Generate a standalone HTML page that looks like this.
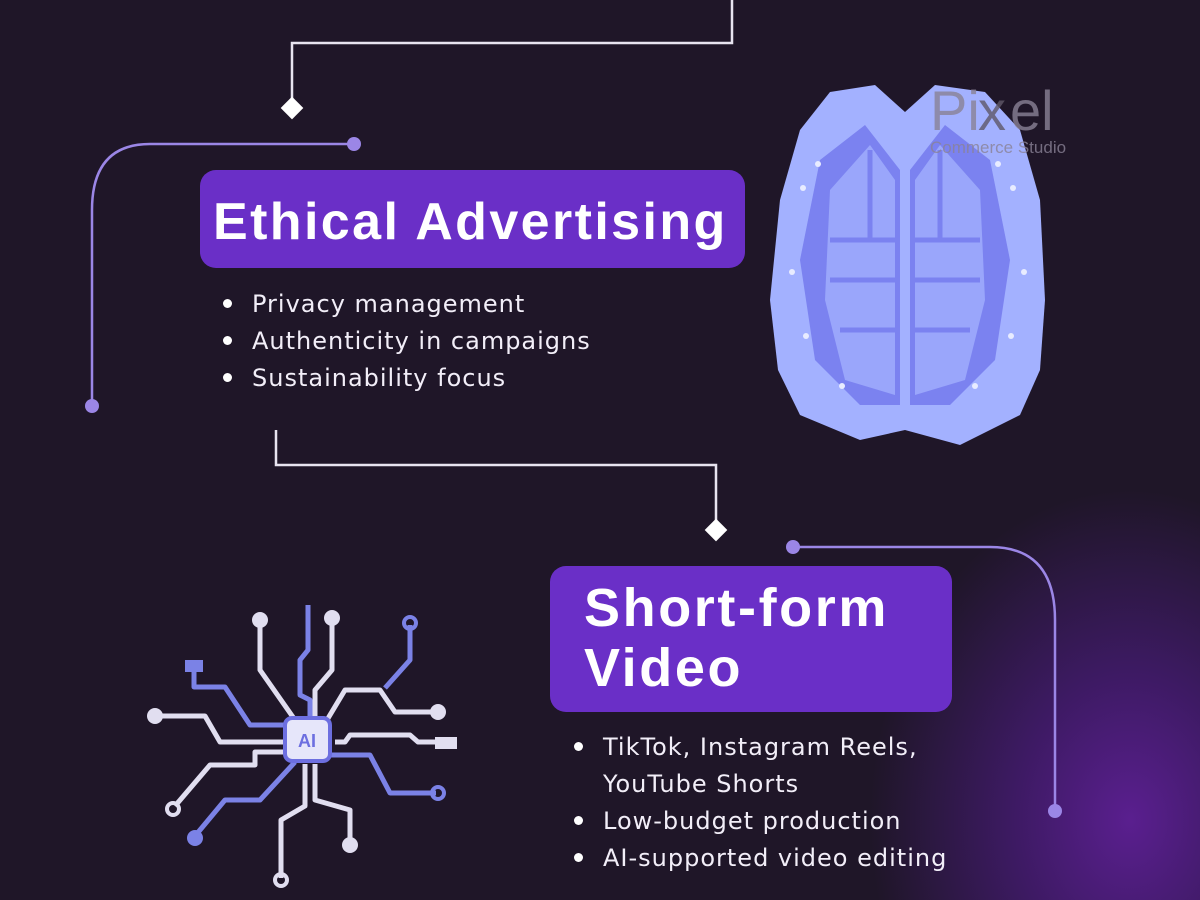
<!DOCTYPE html>
<html><head><style>
body{margin:0;width:1200px;height:900px;overflow:hidden;background:#1f1628;font-family:"Liberation Sans",sans-serif;position:relative}
.bg{position:absolute;inset:0;background:radial-gradient(ellipse 260px 330px at 1130px 820px,#5a1f8f 0%,#3d1a63 45%,rgba(31,22,40,0) 100%)}
.box{position:absolute;background:#6a2fc7;border-radius:16px;color:#fff;font-weight:bold}
.list{position:absolute;color:#f2eef8;font-family:"DejaVu Sans",sans-serif;font-size:24px;letter-spacing:1px;line-height:37px;margin:0;padding:0;list-style:none;white-space:nowrap}
.list li:before{content:"";display:inline-block;width:9px;height:9px;border-radius:50%;background:#fff;margin:0 20px 4px -29px;vertical-align:middle}
.list li.nb:before{display:none}
</style></head><body>
<div class="bg"></div>
<svg width="1200" height="900" style="position:absolute;left:0;top:0">
<g fill="none" stroke="#e8e4f0" stroke-width="2.5">
<path d="M732 0V43H292V100"/>
<path d="M276 430V465H716V522"/>
</g>
<g fill="#fff"><rect x="284" y="100" width="16" height="16" transform="rotate(45 292 108)"/><rect x="708" y="522" width="16" height="16" transform="rotate(45 716 530)"/></g>
<g fill="none" stroke="#9b86e6" stroke-width="2.5">
<path d="M354 144H150Q92 144 92 210V406"/>
<path d="M793 547H990Q1055 547 1055 620V811"/>
</g>
<g fill="#9b86e6"><circle cx="354" cy="144" r="7"/><circle cx="92" cy="406" r="7"/><circle cx="793" cy="547" r="7"/><circle cx="1055" cy="811" r="7"/></g>
<g>
<path d="M905 112L875 85L830 92L800 130L780 200L770 300L778 370L800 415L860 440L905 430Z" fill="#a3b1ff"/>
<path d="M905 112L935 85L985 92L1020 130L1040 200L1045 300L1040 370L1020 415L960 445L905 430Z" fill="#a3b1ff"/>
<path d="M865 125L820 160L800 260L815 360L860 405L900 405V170Z" fill="#7b82f0"/>
<path d="M945 125L990 160L1010 260L995 360L950 405L910 405V170Z" fill="#7b82f0"/>
<path d="M870 145L830 190L825 300L845 380L895 395V180Z" fill="#9aa6fb"/>
<path d="M940 145L980 190L985 300L965 380L915 395V180Z" fill="#9aa6fb"/>
<g stroke="#7b82f0" stroke-width="5" fill="none"><path d="M830 240H895M830 280H895M840 330H895M915 240H980M915 280H980M915 330H970M870 150V240M940 150V240"/></g>
<g fill="#e8ecff"><circle cx="818" cy="164" r="3"/><circle cx="803" cy="188" r="3"/><circle cx="792" cy="272" r="3"/><circle cx="806" cy="336" r="3"/><circle cx="842" cy="386" r="3"/><circle cx="998" cy="164" r="3"/><circle cx="1013" cy="188" r="3"/><circle cx="1024" cy="272" r="3"/><circle cx="1011" cy="336" r="3"/><circle cx="975" cy="386" r="3"/></g>
</g>
<text x="930" y="130" font-family="Liberation Sans" font-size="56" fill="#8a8296" opacity=".8">Pi</text>
<text x="978" y="130" font-family="Liberation Sans" font-size="56" fill="#5f5868" opacity=".8">x</text>
<text x="1010" y="130" font-family="Liberation Sans" font-size="56" fill="#8a8296" opacity=".8">el</text>
<text x="930" y="153" font-family="Liberation Sans" font-size="17" fill="#8a8296" opacity=".8">Commerce Studio</text>
<g fill="none" stroke-width="5" stroke-linejoin="round">
<g stroke="#e1def0">
<path d="M260 620V670L295 720"/><path d="M332 618V670L315 690V720"/><path d="M155 716H205L220 742H288"/><path d="M327 720L345 690H380L395 712H438"/>
<path d="M335 742H345L350 735H410L418 742H455"/><path d="M288 752H255V765H210L175 806"/><path d="M305 764V806L281 820V878"/><path d="M315 764V800L350 810V845"/>
</g>
<g stroke="#7b82e6">
<path d="M308 605V650L300 660V695L310 700V720"/><path d="M410 625V660L385 688"/><path d="M194 662V687H225L250 725H288"/><path d="M330 755H370L390 793H436"/><path d="M295 762L260 800H225L195 836"/>
</g>
</g>
<g fill="#e1def0"><circle cx="260" cy="620" r="8"/><circle cx="332" cy="618" r="8"/><circle cx="155" cy="716" r="8"/><circle cx="438" cy="712" r="8"/><circle cx="350" cy="845" r="8"/><rect x="435" y="737" width="22" height="12"/></g>
<g fill="#7b82e6"><rect x="185" y="660" width="18" height="12"/><circle cx="195" cy="838" r="8"/></g>
<g fill="none" stroke-width="4"><circle cx="173" cy="809" r="6" stroke="#e1def0"/><circle cx="281" cy="880" r="6" stroke="#e1def0"/><circle cx="410" cy="623" r="6" stroke="#7b82e6"/><circle cx="438" cy="793" r="6" stroke="#7b82e6"/></g>
<rect x="285" y="718" width="45" height="43" rx="7" fill="#e6e6fa" stroke="#6d6fe0" stroke-width="4"/>
<text x="307" y="747" text-anchor="middle" font-family="Liberation Sans" font-weight="bold" font-size="18" fill="#6d6fe0">AI</text>
</svg>
<div class="box" style="left:200px;top:170px;width:545px;height:98px;font-size:52px;letter-spacing:2.4px;line-height:104px;padding-left:13px;box-sizing:border-box;white-space:nowrap">Ethical Advertising</div>
<ul class="list" style="left:252px;top:286px"><li>Privacy management</li><li>Authenticity in campaigns</li><li>Sustainability focus</li></ul>
<div class="box" style="left:550px;top:566px;width:402px;height:146px;font-size:54px;letter-spacing:2.6px;line-height:60px;padding:12px 0 0 34px;box-sizing:border-box">Short-form<br>Video</div>
<ul class="list" style="left:603px;top:729px"><li>TikTok, Instagram Reels,</li><li class="nb">YouTube Shorts</li><li>Low-budget production</li><li>AI-supported video editing</li></ul>
</body></html>
